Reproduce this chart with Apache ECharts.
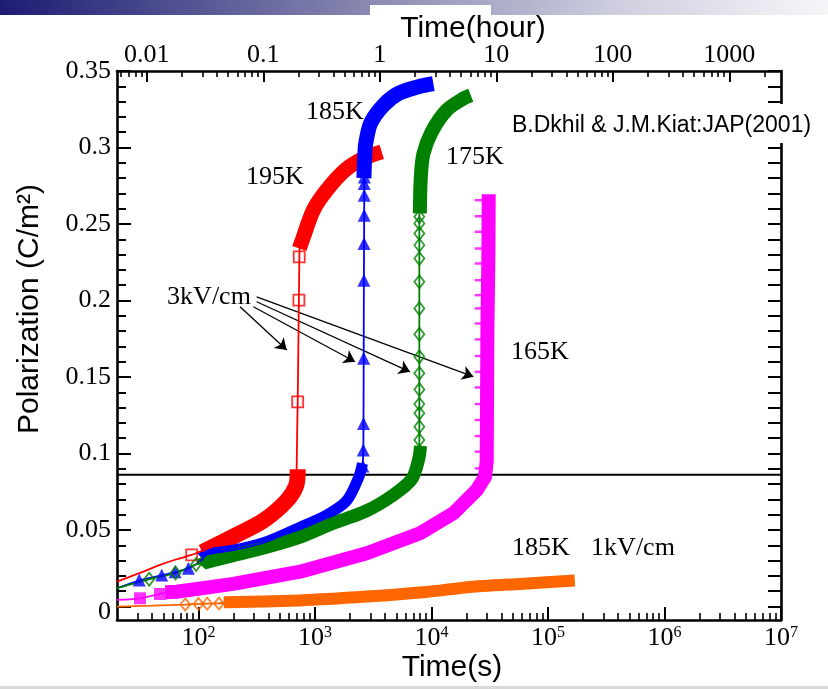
<!DOCTYPE html>
<html><head><meta charset="utf-8">
<script src="https://cdn.jsdelivr.net/npm/echarts@6/dist/echarts.min.js"></script>
<style>html,body{margin:0;padding:0;background:#fff}#c{width:828px;height:689px}</style>
</head><body><div id="c"></div>
<script>
// ---- axis ranges and tick labels ----
const timeMin = 20, timeMax = 1e7;          // seconds
const secPerHour = 3600;
const polMin = -0.0088, polMax = 0.35;
const secDecades = [2, 3, 4, 5, 6, 7];
const hourTicks = [0.01, 0.1, 1, 10, 100, 1000];
const hourLabels = ['0.01', '0.1', '1', '10', '100', '1000'];
const polTicks = [0, 0.05, 0.1, 0.15, 0.2, 0.25, 0.3, 0.35];
const polLabels = ['0', '0.05', '0.1', '0.15', '0.2', '0.25', '0.3', '0.35'];
const refLineP = 0.0862;

// ---- 195K (3kV/cm) red ----
const redFit = [[20,0.0163],[33.6,0.0228],[46.8,0.0272],[65,0.0309],[87.5,0.0337],[103,0.0359],[110,0.0365],[199,0.0457],[361,0.0561],[573,0.0692],[697,0.0800],[697,0.0905],[711,0.1338],[728,0.2003],[735,0.2285],[745,0.2400]];
const redMarks = [[87.5,0.0337],[711,0.1338],[728,0.2003],[733,0.2285]];
const redBandLow = [[108,0.0355],[199,0.0457],[361,0.0561],[573,0.0692],[690,0.0790],[712,0.0898]];
const redBandHigh = [[735,0.2340],[800,0.2420],[969,0.2591],[1262,0.2721],[1812,0.2852],[2603,0.2928],[3743,0.2971]];

// ---- 185K (3kV/cm) blue ----
const blueFit = [[20,0.0120],[31,0.0170],[48,0.0203],[63,0.0225],[82,0.0248],[105,0.0300],[118,0.0340],[199,0.0368],[385,0.0424],[745,0.0518],[1262,0.0598],[1875,0.0692],[2355,0.0838],[2560,0.0920],[2600,0.1023],[2610,0.1197],[2620,0.1622],[2630,0.2133],[2640,0.2373],[2645,0.2558],[2650,0.2688],[2655,0.2808]];
const blueMarks = [[31,0.0174],[48.4,0.0206],[63,0.0228],[82,0.0250],[2580,0.0918],[2600,0.1023],[2610,0.1197],[2620,0.1622],[2630,0.2133],[2640,0.2373],[2645,0.2558],[2650,0.2688],[2650,0.2765],[2655,0.2808]];
const blueBandLow = [[105,0.0320],[118,0.0344],[199,0.0368],[385,0.0424],[745,0.0518],[1262,0.0598],[1875,0.0692],[2355,0.0838],[2560,0.0935]];
const blueBandHigh = [[2630,0.2800],[2680,0.2950],[2727,0.3026],[3013,0.3161],[3866,0.3276],[5198,0.3353],[7980,0.3400],[10380,0.3418]];

// ---- 175K (3kV/cm) green ----
const greenFit = [[20,0.0120],[37.8,0.0178],[63.6,0.0219],[95.3,0.0275],[110,0.0283],[199,0.0333],[385,0.0387],[745,0.0453],[1438,0.0544],[2780,0.0626],[4710,0.0729],[6780,0.0833],[7870,0.0969],[7870,0.1088],[7870,0.2547],[7900,0.2575]];
const greenMarks = [[37.8,0.0178],[63.6,0.0219],[95.3,0.0275],[7870,0.1088],[7870,0.1175],[7870,0.1263],[7870,0.1323],[7870,0.1419],[7870,0.1524],[7870,0.1632],[7870,0.1780],[7870,0.1948],[7870,0.2122],[7870,0.2275],[7870,0.2362],[7870,0.2438],[7870,0.2504],[7870,0.2547]];
const greenBandLow = [[105,0.0270],[110,0.0283],[199,0.0333],[385,0.0387],[745,0.0453],[1438,0.0544],[2780,0.0626],[4710,0.0729],[6780,0.0833],[7800,0.0969],[8050,0.1050]];
const greenBandHigh = [[7950,0.2570],[8090,0.2797],[8510,0.2956],[10050,0.3102],[13510,0.3244],[18780,0.3320],[21730,0.3342]];

// ---- 165K (3kV/cm) magenta ----
const magentaFit = [[20,0.0043],[31.5,0.0054],[46.8,0.0082],[55,0.0093]];
const magentaMarks = [[31.5,0.0054],[46.8,0.0082]];
const magentaBand = [[52,0.0093],[65,0.0097],[199,0.0148],[745,0.0228],[2780,0.0348],[7980,0.0479],[15420,0.0609],[24490,0.0762],[28840,0.0848],[29800,0.0950],[30200,0.1800],[30800,0.2300],[31000,0.2694]];
const magentaDashT = 29800;
const magentaDashP = [0.0903,0.1012,0.1114,0.1219,0.1323,0.1432,0.1534,0.1637,0.1746,0.1850,0.1948,0.2035,0.2133,0.2242,0.2340,0.2449,0.2551,0.2656];

// ---- 185K (1kV/cm) orange ----
const orangeFit = [[20,0.0000],[40,0.0006],[77,0.0013],[100,0.0017],[119,0.0019],[150,0.0020],[175,0.0028]];
const orangeMarks = [[77,0.0013],[100,0.0017],[119,0.0019],[150,0.0020]];
const orangeBand = [[165,0.0028],[745,0.0040],[2780,0.0065],[9000,0.0095],[21430,0.0128],[57500,0.0148],[170000,0.0170]];

// ---- "3kV/cm" arrows: [start, end] in (s, C/m2) ----
const arrows = [
  [[227.5,0.1959],[572.6,0.1676]],
  [[296,0.1959],[2208,0.1600]],
  [[316,0.1992],[6546,0.1534]],
  [[316,0.2024],[22870,0.1502]]
];

const RED='#ff0000', BLUE='#0000ff', GREEN='#008000', MAG='#ff00ff', ORANGE='#ff6600';
const SERIF='"Liberation Serif","Times New Roman",serif';
const SANS='"Liberation Sans",Arial,sans-serif';

function minorLog(lo, hi){
  const out=[];
  for(let e=Math.floor(Math.log10(lo))-1;e<=Math.ceil(Math.log10(hi));e++){
    for(let m=2;m<=9;m++){const v=m*Math.pow(10,e); if(v>lo*1.0001 && v<hi*0.9999) out.push(Math.log10(v));}
  }
  return out;
}
function steps(lo, hi, st){const out=[];for(let k=Math.round(lo/st);k*st<=hi+1e-9;k++){if(k*st>=lo-1e-9) out.push(+(k*st).toFixed(4));}return out;}

const polMinor = steps(0, polMax, 0.01).filter(v=>!polTicks.some(t=>Math.abs(t-v)<1e-9));
const polAll = steps(0, polMax, 0.01);

const chart = echarts.init(document.getElementById('c'), null, {renderer:'canvas'});

function band(data,color,w,z,sm){return {type:'line',data,xAxisIndex:0,yAxisIndex:0,symbol:'none',showSymbol:false,silent:true,z,smooth:sm||false,lineStyle:{color,width:w,cap:'butt',join:'round'}};}
function fit(data,color,z){return {type:'line',data,xAxisIndex:0,yAxisIndex:0,symbol:'none',showSymbol:false,silent:true,z,smooth:0.2,lineStyle:{color,width:1.8}};}
function marks(data,symbol,size,color,filled,z){return {type:'scatter',data,xAxisIndex:0,yAxisIndex:0,symbol,symbolSize:size,silent:true,z,
  itemStyle: filled?{color}:{color:'rgba(0,0,0,0)',borderColor:color,borderWidth:1.8}};}

const lineAxis = {show:true,onZero:false,lineStyle:{color:'#000',width:2.6}};
const noLine = {show:false,onZero:false};

const option = {
  animation:false,
  backgroundColor:'#fff',
  grid:{left:117,right:47,top:71,bottom:69},
  xAxis:[
    {type:'log',min:timeMin,max:timeMax,position:'bottom',axisLine:lineAxis,axisTick:{show:false},axisLabel:{show:false},splitLine:{show:false}},
    {type:'value',min:Math.log10(timeMin),max:Math.log10(timeMax),position:'bottom',axisLine:noLine,splitLine:{show:false},
      axisTick:{show:true,inside:true,length:13,customValues:secDecades,lineStyle:{color:'#000',width:2}},
      axisLabel:{show:true,margin:5,customValues:secDecades,formatter:v=>'{b|10}{s|'+Math.round(v)+'}',
        rich:{b:{fontFamily:SERIF,fontSize:26,color:'#000'},s:{fontFamily:SERIF,fontSize:16,color:'#000',verticalAlign:'top',padding:[0,0,10,0]}}}},
    {type:'value',min:Math.log10(timeMin),max:Math.log10(timeMax),position:'bottom',axisLine:noLine,splitLine:{show:false},axisLabel:{show:false},
      axisTick:{show:true,inside:true,length:7,customValues:minorLog(timeMin,timeMax),lineStyle:{color:'#000',width:1.6}}},
    {type:'value',min:Math.log10(timeMin/secPerHour),max:Math.log10(timeMax/secPerHour),position:'top',axisLine:lineAxis,splitLine:{show:false},
      axisTick:{show:true,inside:true,length:11,customValues:hourTicks.map(Math.log10),lineStyle:{color:'#000',width:2}},
      axisLabel:{show:true,margin:3,customValues:hourTicks.map(Math.log10),fontFamily:SERIF,fontSize:26,color:'#000',
        formatter:v=>{const i=hourTicks.findIndex(h=>Math.abs(Math.log10(h)-v)<1e-6);return i<0?'':hourLabels[i];}}},
    {type:'value',min:Math.log10(timeMin/secPerHour),max:Math.log10(timeMax/secPerHour),position:'top',axisLine:noLine,splitLine:{show:false},axisLabel:{show:false},
      axisTick:{show:true,inside:true,length:6,customValues:minorLog(timeMin/secPerHour,timeMax/secPerHour),lineStyle:{color:'#000',width:1.6}}}
  ],
  yAxis:[
    {type:'value',min:polMin,max:polMax,position:'left',axisLine:lineAxis,splitLine:{show:false},
      axisTick:{show:true,inside:true,length:14,customValues:polTicks,lineStyle:{color:'#000',width:2}},
      axisLabel:{show:true,margin:6,customValues:polTicks,fontFamily:SERIF,fontSize:26,color:'#000',
        formatter:v=>{const i=polTicks.findIndex(t=>Math.abs(t-v)<1e-9);if(i<0)return '';return i===0?'{z|'+polLabels[0]+'}':polLabels[i];},
        rich:{z:{fontFamily:SERIF,fontSize:26,color:'#000',padding:[12,0,0,0]}}}},
    {type:'value',min:polMin,max:polMax,position:'left',axisLine:noLine,splitLine:{show:false},axisLabel:{show:false},
      axisTick:{show:true,inside:true,length:9,customValues:polMinor,lineStyle:{color:'#000',width:2}}},
    {type:'value',min:polMin,max:polMax,position:'right',axisLine:lineAxis,splitLine:{show:false},axisLabel:{show:false},
      axisTick:{show:true,inside:true,length:13,customValues:polAll,lineStyle:{color:'#000',width:2}}}
  ],
  series:[
    {type:'line',data:[[timeMin,refLineP],[timeMax,refLineP]],xAxisIndex:0,yAxisIndex:0,symbol:'none',silent:true,z:1,
      lineStyle:{color:'#000',width:2},
      markLine:{silent:true,symbol:['none','arrow'],symbolSize:11,label:{show:false},itemStyle:{color:'#000'},lineStyle:{color:'#000',width:1.3,type:'solid'},
        data:arrows.map(a=>[{coord:a[0]},{coord:a[1]}])}},
    {type:'scatter',data:magentaDashP.map(p=>[magentaDashT,p]),xAxisIndex:0,yAxisIndex:0,symbol:'rect',symbolSize:[12,2.5],symbolOffset:[-6,0],silent:true,z:2,itemStyle:{color:MAG}},
    band(redBandLow,RED,16,3,0.3), band(redBandHigh,RED,15,3,0.3),
    band(blueBandLow,BLUE,11,4,0.3), band(blueBandHigh,BLUE,15,4,0.3),
    band(greenBandLow,GREEN,13,5,0.3), band(greenBandHigh,GREEN,14,5,0.3),
    band(magentaBand,MAG,14,6),
    band(orangeBand,ORANGE,12,7,0.2),
    fit(redFit,RED,8), fit(blueFit,BLUE,8), fit(greenFit,GREEN,8), fit(magentaFit,MAG,8), fit(orangeFit,ORANGE,8),
    marks(redMarks,'rect',11,RED,false,9),
    marks(blueMarks,'triangle',[13,13],BLUE,true,9),
    marks(greenMarks,'diamond',[10,13],GREEN,false,9),
    marks(magentaMarks,'rect',12,MAG,true,9),
    marks(orangeMarks,'diamond',[10,12],ORANGE,false,9)
  ],
  graphic:[
    {type:'rect',z:100,shape:{x:0,y:0,width:828,height:15},style:{fill:new echarts.graphic.LinearGradient(0,0,1,0,[{offset:0,color:'#1c1c74'},{offset:0.45,color:'#8a8ab2'},{offset:0.75,color:'#cfcfe0'},{offset:1,color:'#f6f6f9'}])}},
    {type:'rect',z:101,shape:{x:370,y:5,width:121,height:12},style:{fill:'#fff'}},
    {type:'rect',z:100,shape:{x:0,y:686,width:828,height:3},style:{fill:'#d8d8d8'}},
    {type:'text',z:102,x:473,y:29,style:{text:'Time(hour)',font:'30px '+SANS,fill:'#000',textAlign:'center',textVerticalAlign:'middle'}},
    {type:'text',z:102,x:452,y:668,style:{text:'Time(s)',font:'30px '+SANS,fill:'#000',textAlign:'center',textVerticalAlign:'middle'}},
    {type:'text',z:102,x:30,y:309,rotation:Math.PI/2,style:{text:'Polarization (C/m\u00b2)',font:'30px '+SANS,fill:'#000',textAlign:'center',textVerticalAlign:'middle'}},
    {type:'text',z:102,x:275,y:177,style:{text:'195K',font:'26px '+SERIF,fill:'#000',textAlign:'center',textVerticalAlign:'middle'}},
    {type:'text',z:102,x:335,y:112,style:{text:'185K',font:'26px '+SERIF,fill:'#000',textAlign:'center',textVerticalAlign:'middle'}},
    {type:'text',z:102,x:475,y:157,style:{text:'175K',font:'26px '+SERIF,fill:'#000',textAlign:'center',textVerticalAlign:'middle'}},
    {type:'text',z:102,x:540,y:352,style:{text:'165K',font:'26px '+SERIF,fill:'#000',textAlign:'center',textVerticalAlign:'middle'}},
    {type:'text',z:102,x:541,y:548,style:{text:'185K',font:'26px '+SERIF,fill:'#000',textAlign:'center',textVerticalAlign:'middle'}},
    {type:'text',z:102,x:633,y:548,style:{text:'1kV/cm',font:'26px '+SERIF,fill:'#000',textAlign:'center',textVerticalAlign:'middle'}},
    {type:'text',z:102,x:209,y:297,style:{text:'3kV/cm',font:'26px '+SERIF,fill:'#000',textAlign:'center',textVerticalAlign:'middle'}},
    {type:'rect',z:101,shape:{x:508,y:104,width:320,height:39},style:{fill:'#fff'}},
    {type:'text',z:102,x:512,y:126,style:{text:'B.Dkhil & J.M.Kiat:JAP(2001)',font:'23px '+SANS,fill:'#000',textAlign:'left',textVerticalAlign:'middle'}}
  ]
};
chart.setOption(option);
</script>
</body></html>
